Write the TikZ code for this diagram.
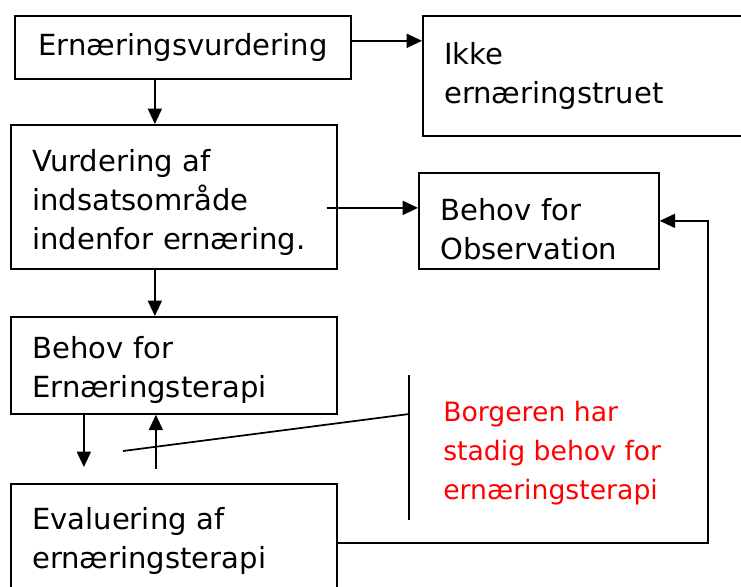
\documentclass[tikz,border=0pt]{standalone}
\usepackage{fontspec}
\setmainfont{DejaVu Sans}
\usetikzlibrary{arrows.meta}
\usetikzlibrary{positioning,calc}

\begin{document}
\begin{tikzpicture}[x=0.75pt,y=-0.75pt,
      box/.style = {draw, line width=1.3pt, rectangle, anchor=north west,
         align=left, inner xsep=16pt, inner ysep=0pt,
         font=\fontsize{21.8pt}{29.25pt}\selectfont},
      flow/.style = {line width=1.3pt, 
         -{Triangle[length=11.5pt,width=10.5pt]}},
      redtext/.style = {anchor=west, align=left, text=red, inner xsep=25.5pt,
         minimum height=108.75pt, font=\fontsize{20pt}{29.25pt}\selectfont}]

   \useasboundingbox (0,0) rectangle (741,586);

   % boxes
   \node[box, minimum width=252pt, minimum height=47.25pt] (vurd) at (14,15) 
      {Ernæringsvurdering};
   \node[box, text width=223pt, minimum height=90pt]     (ikke) at (422,15) 
      {Ikke\\ernæringstruet};
   \node[box, text width=212.5pt, minimum height=108pt, text height=24.6pt] 
      (indsats) at (10,124) {Vurdering af\\indsatsområde\\indenfor ernæring.};
   \node[box, text width=148pt, minimum height=72pt, text height=28.4pt] 
      (obs) at (418,172) {Behov for\\Observation};
   \node[box, text width=212.5pt, minimum height=72.75pt, text height=23.2pt] 
      (terapi) at (10,316) {Behov for\\Ernæringsterapi};
   \node[box, text width=212.5pt, minimum height=85.5pt] (evalu) at (10,483) 
      {Evaluering af\\ernæringsterapi};

   % red remark with its bar
   \node[redtext] (remark) at (409,453) 
      {Borgeren har\\stadig behov for\\ernæringsterapi};
   \draw[line width=1.3pt] ([yshift=4pt]remark.north west) 
      -- ([yshift=4pt]remark.south west);
   \coordinate (lead) at (123,451);
   \draw[line width=1.3pt] ([yshift=29.25pt]remark.west) -- (lead);

   % arrows
   \draw[flow] ([yshift=4.9pt]vurd.east) -- ([yshift=4.9pt]vurd.east -| ikke.west);
   \draw[flow] ([xshift=-21pt]vurd.south) -- ([xshift=-21pt]vurd.south |- indsats.north);
   \draw[flow] ([xshift=-14.25pt]indsats.south) -- ([xshift=-14.25pt]terapi.north);

   \coordinate (obsin) at ([yshift=9.75pt]obs.west);
   \draw[flow] ([xshift=-8.25pt]indsats.east |- obsin) -- (obsin);

   % loop between therapy and evaluation
   \draw[flow, shorten >=12pt] ([xshift=-67.5pt]terapi.south) 
      -- ([xshift=-67.5pt]evalu.north);
   \draw[flow, shorten <=10.5pt] ([xshift=-13.5pt]evalu.north) 
      -- ([xshift=-13.5pt]terapi.south);

   % back to observation
   \draw[flow] ([yshift=-1.5pt]evalu.east) -- ++(370,0) |- (obs.east);

\end{tikzpicture}
\end{document}
